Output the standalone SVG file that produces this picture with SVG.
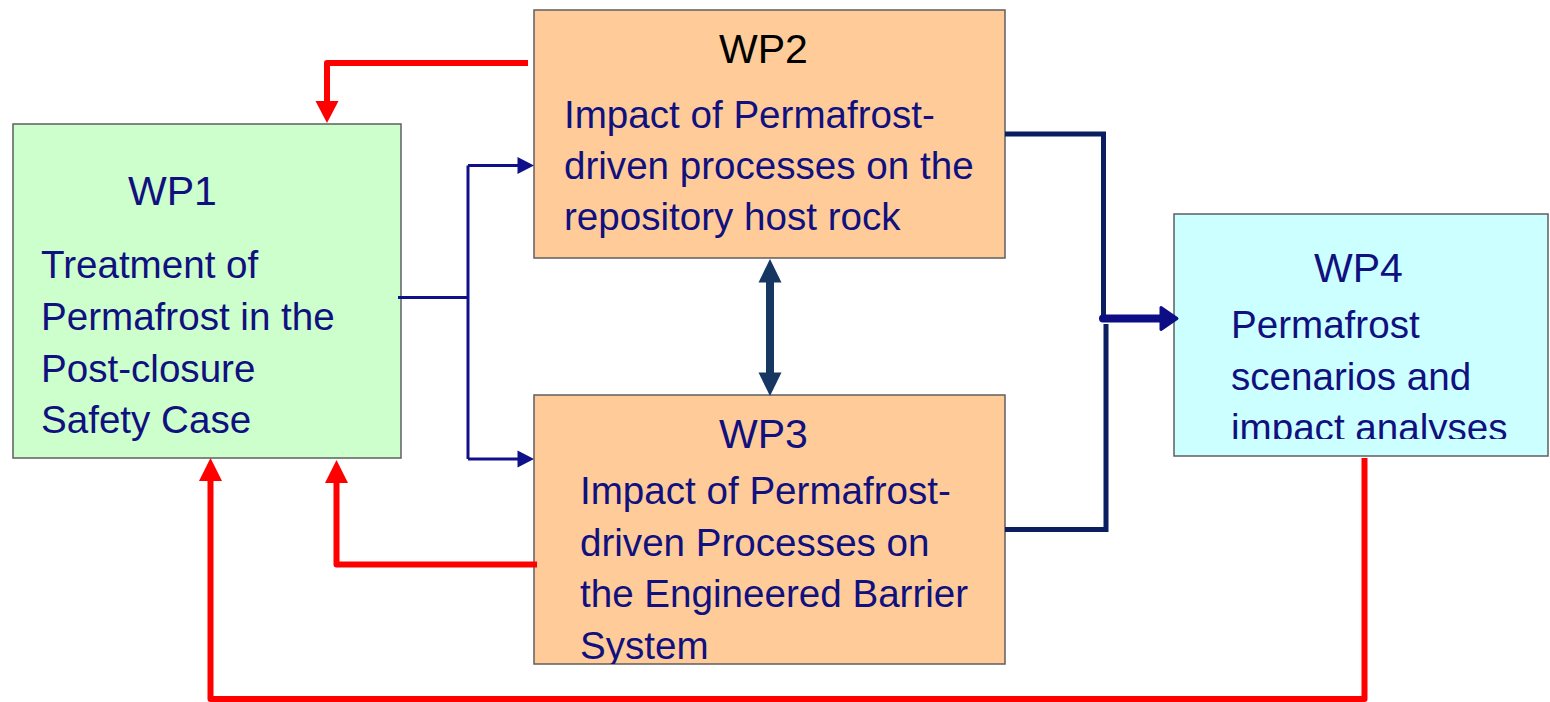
<svg xmlns="http://www.w3.org/2000/svg" width="1550" height="702" viewBox="0 0 1550 702">
<style>
.box{stroke:#5f5f5f;stroke-width:1.5}
.title{font-family:"Liberation Sans",Arial,sans-serif;font-size:41px;fill:#10107f}
.body{font-family:"Liberation Sans",Arial,sans-serif;font-size:38.6px;fill:#10107f}
.red{fill:none;stroke:#ff0000;stroke-width:6;stroke-linejoin:round}
.thin{fill:none;stroke:#10108a;stroke-width:3}
.thick{fill:none;stroke:#0b1f60;stroke-width:5}
</style>
<defs>
<clipPath id="c3"><rect x="534" y="395" width="471" height="269"/></clipPath>
<clipPath id="c4"><rect x="1174" y="214" width="374" height="225"/></clipPath>
</defs>
<rect width="1550" height="702" fill="#ffffff"/>
<g id="wp1">
<rect class="box" x="13" y="124" width="388" height="334" fill="#ccffcc"/>
<text class="title" x="128" y="205">WP1</text>
<text class="body" x="41" y="278">Treatment of</text>
<text class="body" x="41" y="330">Permafrost in the</text>
<text class="body" x="41" y="382">Post-closure</text>
<text class="body" x="41" y="433">Safety Case</text>
</g>
<g id="wp2">
<rect class="box" x="534" y="10" width="471" height="248" fill="#ffcc99"/>
<text class="title" x="719" y="63" style="fill:#000000">WP2</text>
<text class="body" x="564" y="128">Impact of Permafrost-</text>
<text class="body" x="564" y="179">driven processes on the</text>
<text class="body" x="564" y="230">repository host rock</text>
</g>
<g id="wp3">
<rect class="box" x="534" y="395" width="471" height="269" fill="#ffcc99"/>
<g clip-path="url(#c3)">
<text class="title" x="719" y="448">WP3</text>
<text class="body" x="580" y="504">Impact of Permafrost-</text>
<text class="body" x="580" y="556">driven Processes on</text>
<text class="body" x="580" y="607">the Engineered Barrier</text>
<text class="body" x="580" y="659">System</text>
</g>
</g>
<g id="wp4">
<rect class="box" x="1174" y="214" width="374" height="242" fill="#ccffff"/>
<g clip-path="url(#c4)">
<text class="title" x="1314" y="282">WP4</text>
<text class="body" x="1231" y="338">Permafrost</text>
<text class="body" x="1231" y="390">scenarios and</text>
<text class="body" x="1231" y="441">impact analyses</text>
</g>
</g>
<g id="connectors">
<path class="red" d="M528 63 H327 V102"/>
<polygon points="315.5,101 338.5,101 327,123" fill="#ff0000"/>
<path class="thin" d="M398 297.5 H468"/>
<path class="thin" d="M468 165.5 V459"/>
<path class="thin" d="M468 165.5 H519"/>
<polygon points="517.5,157 534,165.5 517.5,174" fill="#10108a"/>
<path class="thin" d="M468 459 H519"/>
<polygon points="517.5,450.5 534,459 517.5,467.5" fill="#10108a"/>
<rect x="766" y="280" width="8" height="95" fill="#173763"/>
<polygon points="770,259 781.5,282.5 758.5,282.5" fill="#173763"/>
<polygon points="770,396 781.5,372.5 758.5,372.5" fill="#173763"/>
<path class="thick" d="M1005 134 H1103.5 V320"/>
<path class="thick" d="M1106 324 V529.5 H1005"/>
<path d="M1103 318.5 H1162" fill="none" stroke="#0d0d85" stroke-width="8" stroke-linecap="round"/>
<polygon points="1161,307.5 1177,318.5 1161,329.5" fill="#0d0d85" stroke="#0d0d85" stroke-width="3" stroke-linejoin="round"/>
<path class="red" d="M537 564.5 H336.5 V481"/>
<polygon points="325,483 348,483 336.5,460" fill="#ff0000"/>
<path class="red" d="M1364.5 458 V699 H210.5 V479"/>
<polygon points="199,481 222,481 210.5,458" fill="#ff0000"/>
</g>
</svg>
